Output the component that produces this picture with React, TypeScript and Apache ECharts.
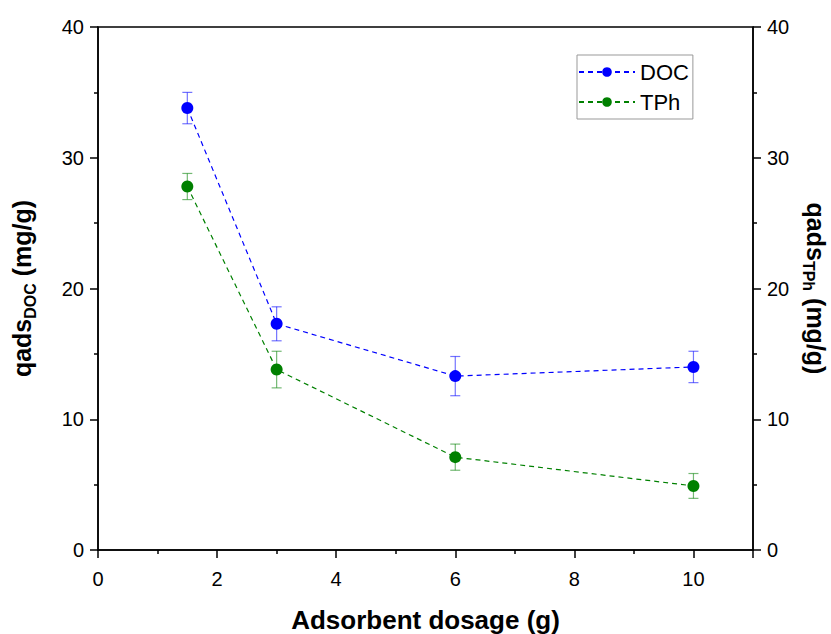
import React, { useEffect, useRef } from "react";
import * as echarts from "echarts";

const dosage = [1.5, 3, 6, 10];
const docValues = [33.8, 17.3, 13.3, 14.0];
const docErrors = [1.2, 1.3, 1.5, 1.2];
const tphValues = [27.8, 13.8, 7.1, 4.9];
const tphErrors = [1.0, 1.4, 1.0, 0.95];

const BLUE = "#0000FF";
const GREEN = "#008000";
const FONT = "Liberation Sans, Arial, sans-serif";

function errorSeries(name: string, values: number[], errors: number[], color: string, yAxisIndex: number) {
  return {
    type: "custom",
    name: name + "-err",
    yAxisIndex,
    silent: true,
    z: 1,
    data: dosage.map((x, i) => [x, values[i] - errors[i], values[i] + errors[i]]),
    renderItem: (params: any, api: any) => {
      const x = api.value(0);
      const lo = api.coord([x, api.value(1)]);
      const hi = api.coord([x, api.value(2)]);
      const w = 5;
      const style = { stroke: color, lineWidth: 1.2, opacity: 0.55 };
      return {
        type: "group",
        children: [
          { type: "line", shape: { x1: lo[0], y1: lo[1], x2: hi[0], y2: hi[1] }, style },
          { type: "line", shape: { x1: lo[0] - w, y1: lo[1], x2: lo[0] + w, y2: lo[1] }, style },
          { type: "line", shape: { x1: hi[0] - w, y1: hi[1], x2: hi[0] + w, y2: hi[1] }, style },
        ],
      };
    },
  };
}

export default function App() {
  const ref = useRef<HTMLDivElement>(null);
  useEffect(() => {
    if (!ref.current) return;
    const chart = echarts.init(ref.current, null, { renderer: "svg" });
    const axisLine = { lineStyle: { color: "#000", width: 1.5 } };
    const yCommon = {
      type: "value",
      min: 0,
      max: 40,
      interval: 10,
      axisLine: { show: true, ...axisLine },
      axisTick: { show: true, length: 8, lineStyle: { color: "#000", width: 1.5 } },
      minorTick: { show: true, splitNumber: 2, length: 4, lineStyle: { color: "#000", width: 1.5 } },
      splitLine: { show: false },
      axisLabel: { color: "#000", fontSize: 20, fontFamily: FONT, margin: 14 },
      nameLocation: "middle",
      nameTextStyle: {
        color: "#000",
        fontSize: 25,
        fontWeight: "bold",
        fontFamily: FONT,
        lineHeight: 32,
        rich: {
          b: { fontSize: 25, fontWeight: "bold", fontFamily: FONT, color: "#000", lineHeight: 32, verticalAlign: "middle" },
          sub: { fontSize: 16, fontWeight: "bold", fontFamily: FONT, color: "#000", lineHeight: 16, verticalAlign: "bottom" },
        },
      },
    };
    chart.setOption({
      animation: false,
      grid: {
        left: 98,
        right: 78,
        top: 27,
        bottom: 84,
        show: true,
        borderColor: "#000",
        borderWidth: 1.5,
        outerBoundsMode: "none",
        containLabel: false,
      },
      legend: {
        orient: "vertical",
        left: 577,
        top: 55,
        data: ["DOC", "TPh"],
        itemWidth: 56,
        itemHeight: 12,
        itemGap: 8,
        padding: [6, 4, 6, 1],
        borderColor: "#999",
        borderWidth: 1,
        textStyle: { color: "#000", fontSize: 22, fontFamily: FONT, padding: [0, 0, 0, 0] },
      },
      xAxis: {
        type: "value",
        min: 0,
        max: 11,
        interval: 2,
        axisLine: { show: true, onZero: false, ...axisLine },
        axisTick: { show: true, length: 8, lineStyle: { color: "#000", width: 1.5 } },
        minorTick: { show: true, splitNumber: 2, length: 4, lineStyle: { color: "#000", width: 1.5 } },
        splitLine: { show: false },
        axisLabel: {
          color: "#000",
          fontSize: 20,
          fontFamily: FONT,
          margin: 19,
          showMaxLabel: false,
          formatter: (v: number) => (v > 10 ? "" : String(v)),
        },
        name: "Adsorbent dosage (g)",
        nameLocation: "middle",
        nameGap: 57,
        nameTextStyle: { color: "#000", fontSize: 26, fontWeight: "bold", fontFamily: FONT },
      },
      yAxis: [
        {
          ...yCommon,
          position: "left",
          name: "{b|qads}{sub|DOC}{b| (mg/g)}",
          nameGap: 60,
          nameRotate: 90,
        },
        {
          ...yCommon,
          position: "right",
          name: "{b|qads}{sub|TPh}{b| (mg/g)}",
          nameGap: 46,
          nameRotate: -90,
        },
      ],
      series: [
        errorSeries("DOC", docValues, docErrors, BLUE, 0),
        errorSeries("TPh", tphValues, tphErrors, GREEN, 1),
        {
          type: "line",
          name: "DOC",
          yAxisIndex: 0,
          data: dosage.map((x, i) => [x, docValues[i]]),
          symbol: "circle",
          symbolSize: 12,
          itemStyle: { color: BLUE },
          lineStyle: { color: BLUE, width: 1.2, type: [5, 4] },
          z: 3,
        },
        {
          type: "line",
          name: "TPh",
          yAxisIndex: 1,
          data: dosage.map((x, i) => [x, tphValues[i]]),
          symbol: "circle",
          symbolSize: 12,
          itemStyle: { color: GREEN },
          lineStyle: { color: GREEN, width: 1.2, type: [5, 4] },
          z: 3,
        },
      ],
    });
    return () => chart.dispose();
  }, []);
  return <div ref={ref} style={{ width: 831, height: 634, position: "absolute", left: 0, top: 0, background: "#fff" }} />;
}
